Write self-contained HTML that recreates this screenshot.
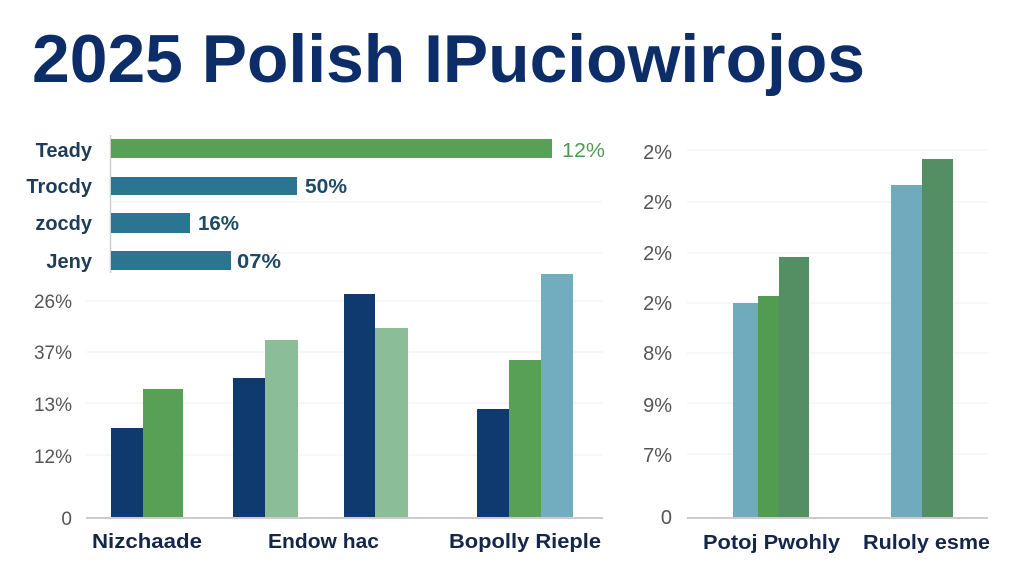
<!DOCTYPE html>
<html>
<head>
<meta charset="utf-8">
<style>
html,body{margin:0;padding:0;background:#ffffff;}
svg{display:block;}
text{font-family:"Liberation Sans",sans-serif;}
</style>
</head>
<body>
<svg width="1024" height="585" viewBox="0 0 1024 585" xmlns="http://www.w3.org/2000/svg">
<rect width="1024" height="585" fill="#ffffff"/>

<!-- Title -->
<text x="32" y="82" font-size="68" font-weight="bold" fill="#0c2d68" textLength="833" lengthAdjust="spacingAndGlyphs">2025 Polish IPuciowirojos</text>

<!-- Horizontal bar chart -->
<g>
  <line x1="111" y1="202" x2="602" y2="202" stroke="#f0f0f0" stroke-width="1"/>
  <line x1="111" y1="253" x2="602" y2="253" stroke="#f0f0f0" stroke-width="1"/>
  <line x1="110.5" y1="135" x2="110.5" y2="273" stroke="#cfcfcf" stroke-width="1.5"/>
  <rect x="111" y="139" width="441" height="19" fill="#58a056"/>
  <rect x="111" y="177" width="186" height="18" fill="#2c7590"/>
  <rect x="111" y="213" width="79" height="20" fill="#2c7590"/>
  <rect x="111" y="251" width="120" height="19" fill="#2c7590"/>
  <g font-size="20" font-weight="bold" fill="#1e3c58" text-anchor="end">
    <text x="92" y="157">Teady</text>
    <text x="92" y="193">Trocdy</text>
    <text x="92" y="230">zocdy</text>
    <text x="92" y="268">Jeny</text>
  </g>
  <text x="562" y="157" font-size="20" fill="#4f9a52" textLength="43" lengthAdjust="spacingAndGlyphs">12%</text>
  <g font-size="20" font-weight="bold" fill="#1d4a66">
    <text x="305" y="193" textLength="42" lengthAdjust="spacingAndGlyphs">50%</text>
    <text x="198" y="230" textLength="41" lengthAdjust="spacingAndGlyphs">16%</text>
    <text x="237" y="268" textLength="44" lengthAdjust="spacingAndGlyphs">07%</text>
  </g>
</g>

<!-- Left grouped vertical chart -->
<g>
  <g stroke="#efefef" stroke-width="1">
    <line x1="86" y1="301" x2="603" y2="301"/>
    <line x1="86" y1="352" x2="603" y2="352"/>
    <line x1="86" y1="403" x2="603" y2="403"/>
    <line x1="86" y1="455" x2="603" y2="455"/>
  </g>
  <g font-size="19" fill="#555555" text-anchor="end">
    <text x="72" y="308">26%</text>
    <text x="72" y="359">37%</text>
    <text x="72" y="411">13%</text>
    <text x="72" y="463">12%</text>
    <text x="72" y="525">0</text>
  </g>
  <!-- group 1 -->
  <rect x="111" y="428" width="32" height="90" fill="#0f3a6f"/>
  <rect x="143" y="389" width="40" height="129" fill="#58a056"/>
  <!-- group 2 -->
  <rect x="233" y="378" width="32" height="140" fill="#0f3a6f"/>
  <rect x="265" y="340" width="33" height="178" fill="#8cbd99"/>
  <!-- group 3 -->
  <rect x="344" y="294" width="31" height="224" fill="#0f3a6f"/>
  <rect x="375" y="328" width="33" height="190" fill="#8cbd99"/>
  <!-- group 4 -->
  <rect x="477" y="409" width="32" height="109" fill="#0f3a6f"/>
  <rect x="509" y="360" width="32" height="158" fill="#58a056"/>
  <rect x="541" y="274" width="32" height="244" fill="#72adbf"/>
  <line x1="86" y1="518" x2="603" y2="518" stroke="#cccccc" stroke-width="2"/>
  <g font-size="20" font-weight="bold" fill="#15264b">
    <text x="92" y="548" textLength="110" lengthAdjust="spacingAndGlyphs">Nizchaade</text>
    <text x="268" y="548" textLength="111" lengthAdjust="spacingAndGlyphs">Endow hac</text>
    <text x="449" y="548" textLength="152" lengthAdjust="spacingAndGlyphs">Bopolly Rieple</text>
  </g>
</g>

<!-- Right grouped vertical chart -->
<g>
  <g stroke="#efefef" stroke-width="1">
    <line x1="687" y1="150" x2="988" y2="150"/>
    <line x1="687" y1="202" x2="988" y2="202"/>
    <line x1="687" y1="253" x2="988" y2="253"/>
    <line x1="687" y1="303" x2="988" y2="303"/>
    <line x1="687" y1="353" x2="988" y2="353"/>
    <line x1="687" y1="403" x2="988" y2="403"/>
    <line x1="687" y1="454" x2="988" y2="454"/>
  </g>
  <g font-size="20" fill="#555555" text-anchor="end">
    <text x="672" y="159">2%</text>
    <text x="672" y="209">2%</text>
    <text x="672" y="260">2%</text>
    <text x="672" y="310">2%</text>
    <text x="672" y="360">8%</text>
    <text x="672" y="412">9%</text>
    <text x="672" y="462">7%</text>
    <text x="672" y="524">0</text>
  </g>
  <rect x="733" y="303" width="25" height="215" fill="#6fabbd"/>
  <rect x="758" y="296" width="21" height="222" fill="#529c52"/>
  <rect x="779" y="257" width="30" height="261" fill="#548f63"/>
  <rect x="891" y="185" width="31" height="333" fill="#6fabbd"/>
  <rect x="922" y="159" width="31" height="359" fill="#548f63"/>
  <line x1="687" y1="518" x2="988" y2="518" stroke="#cccccc" stroke-width="2"/>
  <g font-size="20" font-weight="bold" fill="#15264b">
    <text x="703" y="549" textLength="137" lengthAdjust="spacingAndGlyphs">Potoj Pwohly</text>
    <text x="863" y="549" textLength="127" lengthAdjust="spacingAndGlyphs">Ruloly esme</text>
  </g>
</g>
</svg>
</body>
</html>
